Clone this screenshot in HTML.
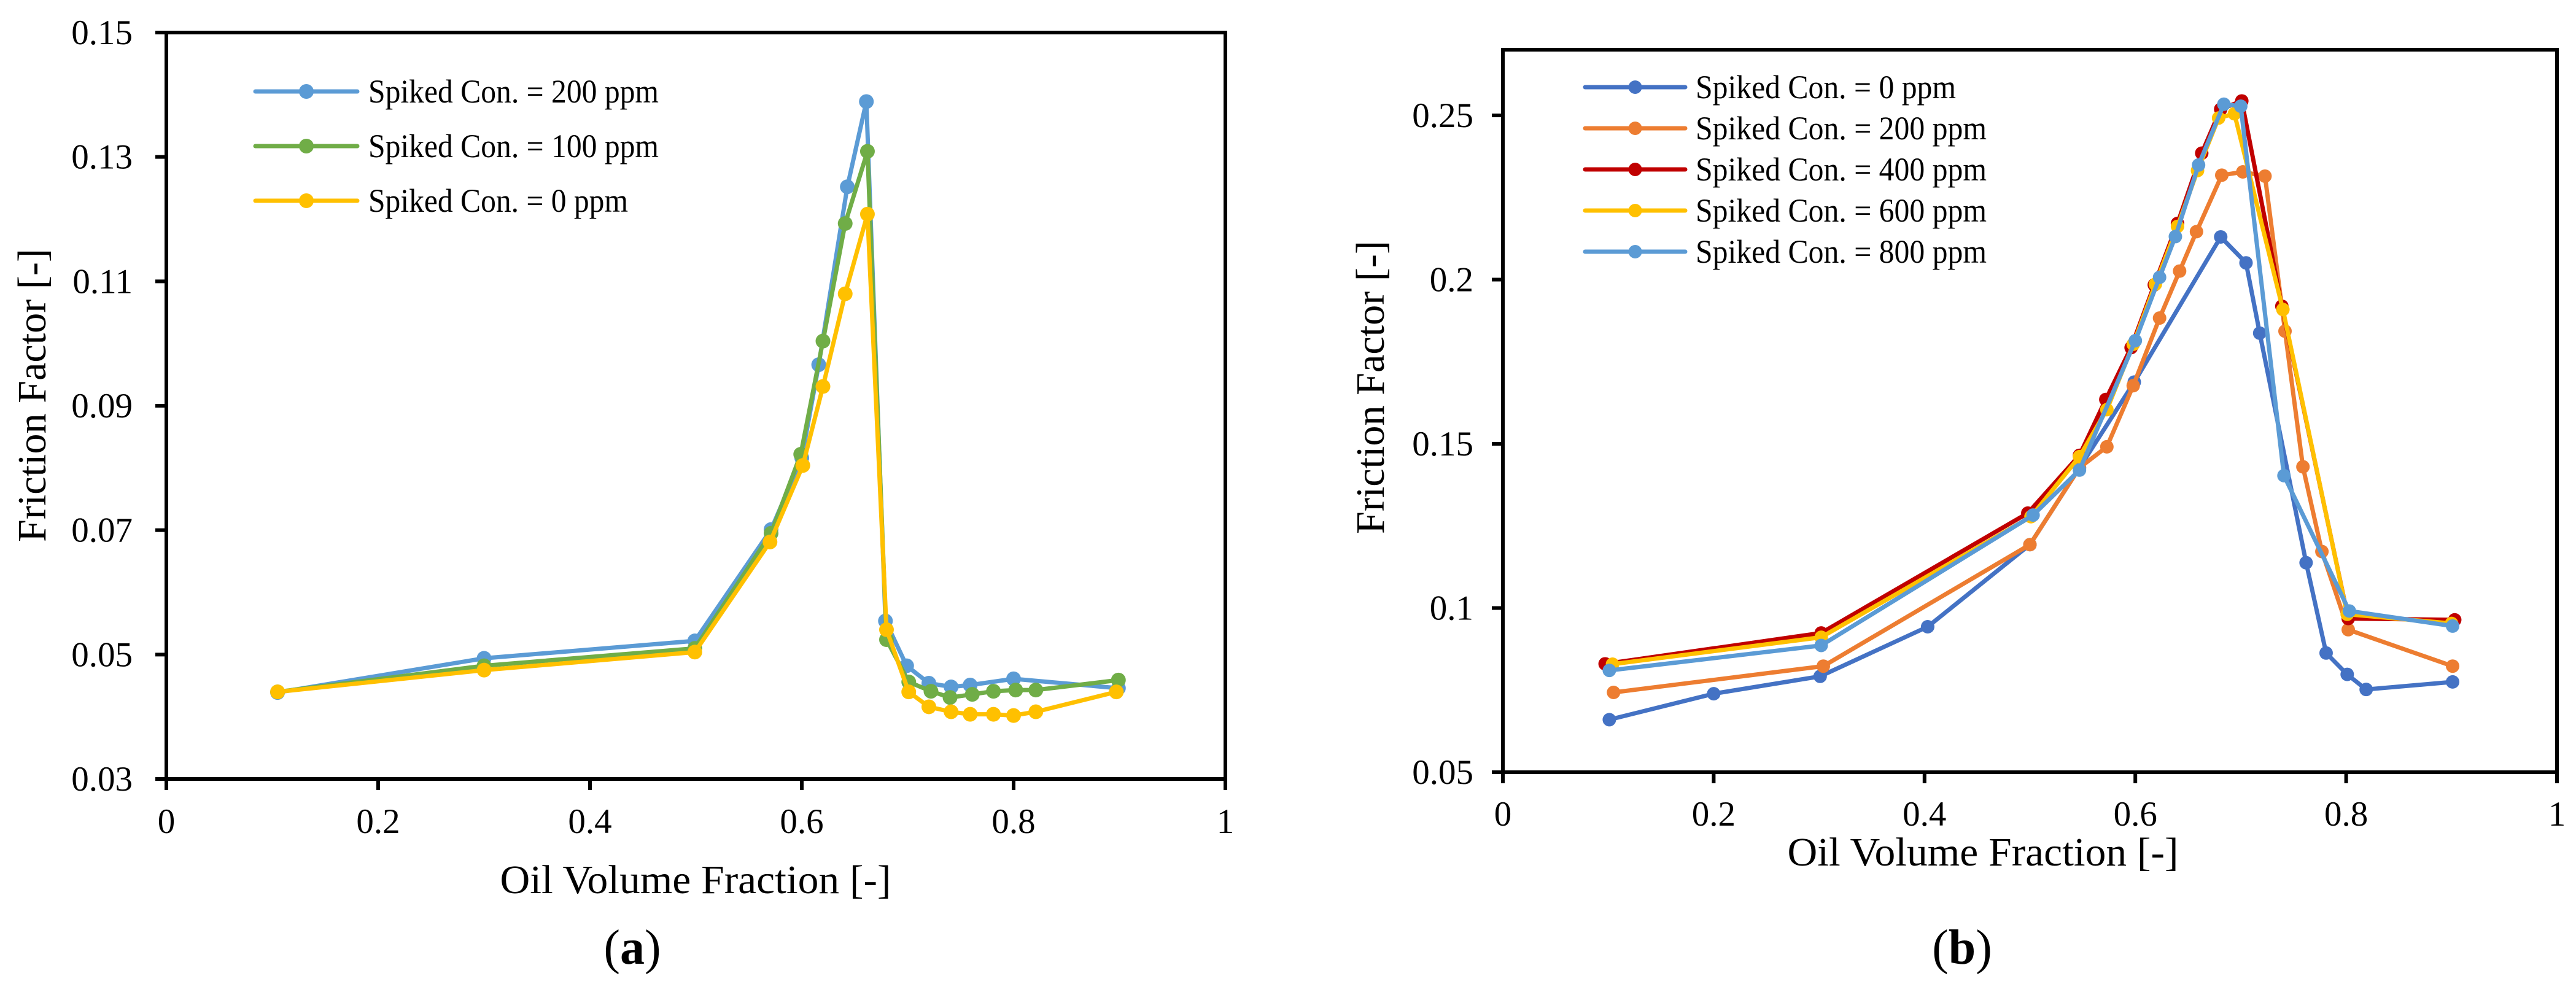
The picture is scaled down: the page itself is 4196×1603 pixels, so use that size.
<!DOCTYPE html>
<html><head><meta charset="utf-8"><title>Friction Factor vs Oil Volume Fraction</title>
<style>
html,body{margin:0;padding:0;background:#fff;}
svg{display:block;}
text{font-family:"Liberation Serif","Times New Roman",serif;fill:#000;}
</style></head>
<body>
<svg id="fig" width="4196" height="1603" viewBox="0 0 4196 1603" xmlns="http://www.w3.org/2000/svg">
<rect width="4196" height="1603" fill="#fff"/>
<g id="chartA"></g>
<g id="chartB"></g>
</svg>
<script>
// ---- Chart (a) data ----
const aXTicks = [0, 0.2, 0.4, 0.6, 0.8, 1];
const aYTicks = [0.03, 0.05, 0.07, 0.09, 0.11, 0.13, 0.15];
const aYLabels = ["0.03","0.05","0.07","0.09","0.11","0.13","0.15"];
const aNames = ["Spiked Con. = 200 ppm","Spiked Con. = 100 ppm","Spiked Con. = 0 ppm"];
const aColors = ["#5B9BD5","#70AD47","#FFC000"];
const a200X = [0.105,0.30,0.499,0.571,0.600,0.616,0.643,0.661,0.679,0.699,0.720,0.741,0.759,0.800,0.899];
const a200Y = [0.0439,0.0494,0.0522,0.0701,0.0816,0.0966,0.1252,0.1389,0.0554,0.0482,0.0454,0.0448,0.0451,0.0461,0.0446];
const a100X = [0.105,0.30,0.499,0.571,0.599,0.620,0.641,0.662,0.680,0.701,0.722,0.740,0.761,0.781,0.802,0.821,0.899];
const a100Y = [0.0440,0.0482,0.0510,0.0695,0.0822,0.1004,0.1193,0.1309,0.0524,0.0456,0.0441,0.0431,0.0436,0.0441,0.0443,0.0443,0.0459];
const a0X = [0.105,0.30,0.499,0.570,0.601,0.620,0.641,0.662,0.680,0.701,0.720,0.741,0.759,0.781,0.800,0.821,0.897];
const a0Y = [0.0440,0.0475,0.0504,0.0681,0.0804,0.0931,0.1080,0.1208,0.0540,0.0440,0.0416,0.0408,0.0404,0.0404,0.0402,0.0408,0.0440];

// ---- Chart (b) data ----
const bXTicks = [0, 0.2, 0.4, 0.6, 0.8, 1];
const bYTicks = [0.05, 0.1, 0.15, 0.2, 0.25];
const bYLabels = ["0.05","0.1","0.15","0.2","0.25"];
const bNames = ["Spiked Con. = 0 ppm","Spiked Con. = 200 ppm","Spiked Con. = 400 ppm","Spiked Con. = 600 ppm","Spiked Con. = 800 ppm"];
const bColors = ["#4472C4","#ED7D31","#C00000","#FFC000","#5B9BD5"];
const b0X = [0.101,0.200,0.301,0.403,0.500,0.547,0.599,0.681,0.705,0.718,0.762,0.781,0.801,0.819,0.901];
const b0Y = [0.0660,0.0739,0.0792,0.0943,0.1193,0.1427,0.1688,0.2130,0.2051,0.1837,0.1138,0.0863,0.0798,0.0752,0.0775];
const b200X = [0.105,0.304,0.500,0.547,0.573,0.598,0.623,0.642,0.658,0.682,0.702,0.723,0.742,0.759,0.777,0.802,0.901];
const b200Y = [0.0743,0.0823,0.1193,0.1427,0.1491,0.1677,0.1883,0.2026,0.2146,0.2318,0.2328,0.2315,0.1843,0.1430,0.1172,0.0934,0.0823];
const b400X = [0.097,0.302,0.498,0.547,0.572,0.596,0.618,0.640,0.663,0.681,0.701,0.739,0.802,0.903];
const b400Y = [0.0830,0.0924,0.1289,0.1465,0.1635,0.1793,0.1984,0.2171,0.2385,0.2519,0.2544,0.1919,0.0968,0.0964];
const b600X = [0.104,0.302,0.501,0.547,0.573,0.598,0.619,0.640,0.659,0.679,0.694,0.740,0.801,0.900];
const b600Y = [0.0829,0.0911,0.1278,0.1461,0.1604,0.1803,0.1986,0.2162,0.2332,0.2492,0.2505,0.1909,0.0981,0.0953];
const b800X = [0.101,0.302,0.503,0.547,0.600,0.623,0.638,0.660,0.684,0.700,0.741,0.803,0.901];
const b800Y = [0.0810,0.0886,0.1283,0.1420,0.1814,0.2007,0.2131,0.2349,0.2534,0.2528,0.1403,0.0991,0.0945];

const NS = "http://www.w3.org/2000/svg";
function mk(tag, attrs, parent){
  const e = document.createElementNS(NS, tag);
  for (const k in attrs) e.setAttribute(k, attrs[k]);
  parent.appendChild(e);
  return e;
}

function drawChart(g, cfg){
  const sx = v => cfg.L + (v - cfg.xMin)/(cfg.xMax - cfg.xMin)*(cfg.R - cfg.L);
  const sy = v => cfg.B - (v - cfg.yMin)/(cfg.yMax - cfg.yMin)*(cfg.B - cfg.T);
  // series
  cfg.series.forEach((s, i) => {
    const sg = mk('g', {}, g);
    
    
    const pts = s.x.map((xv, j) => sx(xv).toFixed(1) + ',' + sy(s.y[j]).toFixed(1)).join(' ');
    const pl = mk('polyline', {points: pts, fill: 'none', stroke: s.color, 'stroke-width': 7, 'stroke-linejoin': 'round', 'stroke-linecap': 'round'}, sg);
    
    
    s.x.forEach((xv, j) => {
      const c = mk('ellipse', {cx: sx(xv), cy: sy(s.y[j]), rx: cfg.mr, ry: cfg.mr, fill: s.color}, sg);
      
      
    });
  });
  // frame
  const fr = mk('rect', {x: cfg.L, y: cfg.T, width: cfg.R - cfg.L, height: cfg.B - cfg.T, fill: 'none', stroke: '#000', 'stroke-width': 6}, g);
  
  
  // x ticks
  cfg.xTicks.forEach(v => {
    const t = mk('line', {x1: sx(v), x2: sx(v), y1: cfg.B, y2: cfg.B + 18, stroke: '#000', 'stroke-width': 6}, g);
    
    
    const lb = mk('text', {x: sx(v), y: cfg.xLabY, 'font-size': 57, 'text-anchor': 'middle'}, g);
    lb.textContent = String(v);
    
    
  });
  // y ticks
  cfg.yTicks.forEach((v, i) => {
    const t = mk('line', {x1: cfg.L - 18, x2: cfg.L, y1: sy(v), y2: sy(v), stroke: '#000', 'stroke-width': 6}, g);
    
    
    const lb = mk('text', {x: cfg.yLabX, y: sy(v) + 19, 'font-size': 57, 'text-anchor': 'end'}, g);
    lb.textContent = cfg.yLabels[i];
    
    
  });
  // titles
  const xt = mk('text', {x: cfg.xtX, y: cfg.xtY, 'font-size': 66, 'text-anchor': 'middle', textLength: 637, lengthAdjust: 'spacingAndGlyphs'}, g);
  xt.textContent = 'Oil Volume Fraction [-]';
  
  
  const yt = mk('text', {x: 0, y: 0, 'font-size': 66, 'text-anchor': 'middle', textLength: 478, lengthAdjust: 'spacingAndGlyphs', transform: 'translate(' + cfg.ytX + ',' + cfg.ytY + ') rotate(-90)'}, g);
  yt.textContent = 'Friction Factor [-]';
  
  
  // panel label
  const pl = mk('text', {x: cfg.pX, y: 1570, 'font-size': 80, 'text-anchor': 'middle'}, g);
  
  
  const p1 = mk('tspan', {}, pl); p1.textContent = '(';
  const p2 = mk('tspan', {'font-weight': 'bold'}, pl); p2.textContent = cfg.panel;
  const p3 = mk('tspan', {}, pl); p3.textContent = ')';
  // legend
  const lg = mk('g', {}, g);
  
  
  cfg.series.forEach((s, i) => {
    const y = cfg.legY0 + i*cfg.legDy;
    const eg = mk('g', {}, lg);
    
    
    mk('line', {x1: cfg.legX1, x2: cfg.legX2, y1: y, y2: y, stroke: s.color, 'stroke-width': 7, 'stroke-linecap': 'round'}, eg);
    mk('ellipse', {cx: (cfg.legX1 + cfg.legX2)/2, cy: y, rx: cfg.mr, ry: cfg.mr, fill: s.color}, eg);
    const t = mk('text', {x: cfg.legTX, y: y + 18, 'font-size': 54, textLength: s.tl, lengthAdjust: 'spacingAndGlyphs'}, eg);
    t.textContent = s.name;
  });
}

drawChart(document.getElementById('chartA'), {
  L: 271, R: 1996, T: 53, B: 1269, xMin: 0, xMax: 1, yMin: 0.03, yMax: 0.15, mr: 12,
  xTicks: aXTicks, yTicks: aYTicks, yLabels: aYLabels, xLabY: 1357, yLabX: 216,
  xtX: 1133, xtY: 1455, ytX: 74, ytY: 644, pX: 1030, panel: 'a',
  legY0: 149, legDy: 89, legX1: 416, legX2: 582, legTX: 600,
  series: [
    {key: '200ppm', name: aNames[0], color: aColors[0], x: a200X, y: a200Y, tl: 473},
    {key: '100ppm', name: aNames[1], color: aColors[1], x: a100X, y: a100Y, tl: 473},
    {key: '0ppm', name: aNames[2], color: aColors[2], x: a0X, y: a0Y, tl: 423}
  ]
});

drawChart(document.getElementById('chartB'), {
  L: 2448, R: 4165, T: 81, B: 1258, xMin: 0, xMax: 1, yMin: 0.05, yMax: 0.27, mr: 11,
  xTicks: bXTicks, yTicks: bYTicks, yLabels: bYLabels, xLabY: 1345, yLabX: 2400,
  xtX: 3230, xtY: 1410, ytX: 2254, ytY: 631, pX: 3196, panel: 'b',
  legY0: 142, legDy: 67, legX1: 2582, legX2: 2745, legTX: 2762,
  series: [
    {key: '0ppm', name: bNames[0], color: bColors[0], x: b0X, y: b0Y, tl: 424},
    {key: '200ppm', name: bNames[1], color: bColors[1], x: b200X, y: b200Y, tl: 474},
    {key: '400ppm', name: bNames[2], color: bColors[2], x: b400X, y: b400Y, tl: 474},
    {key: '600ppm', name: bNames[3], color: bColors[3], x: b600X, y: b600Y, tl: 474},
    {key: '800ppm', name: bNames[4], color: bColors[4], x: b800X, y: b800Y, tl: 474}
  ]
});
</script>
</body></html>
